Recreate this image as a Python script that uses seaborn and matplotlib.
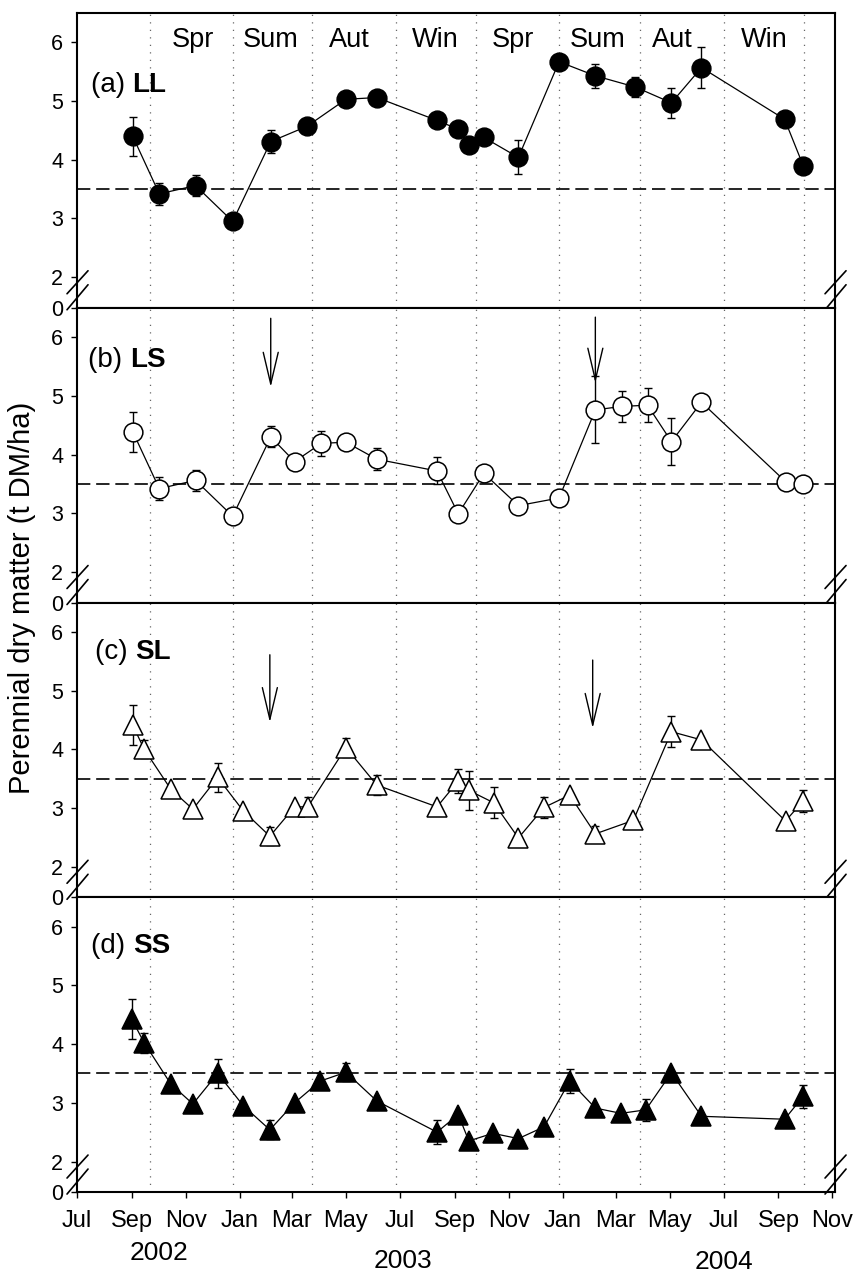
import numpy as np
import pandas as pd
import matplotlib
matplotlib.use("Agg")
import matplotlib.pyplot as plt
import matplotlib.dates as mdates
import matplotlib.transforms as mtransforms
import seaborn as sns

# ---------------- data ----------------
ll_dates = ["2002-09-02", "2002-10-02", "2002-11-12", "2002-12-24", "2003-02-05", "2003-03-18",
            "2003-05-01", "2003-06-05", "2003-08-12", "2003-09-05", "2003-09-17", "2003-10-04",
            "2003-11-12", "2003-12-28", "2004-02-07", "2004-03-23", "2004-05-03", "2004-06-06",
            "2004-09-08", "2004-09-29"]
ll_vals = [4.40, 3.42, 3.56, 2.95, 4.31, 4.57, 5.03, 5.06, 4.67, 4.52, 4.26, 4.38, 4.04, 5.67,
           5.43, 5.24, 4.97, 5.57, 4.69, 3.90]
ll_err = [0.33, 0.19, 0.18, 0, 0.20, 0, 0.08, 0, 0, 0, 0, 0, 0.29, 0, 0.20, 0.17, 0.25, 0.35, 0, 0]

ls_dates = ["2002-09-02", "2002-10-02", "2002-11-12", "2002-12-24", "2003-02-05", "2003-03-04",
            "2003-04-03", "2003-05-01", "2003-06-05", "2003-08-12", "2003-09-05", "2003-10-04",
            "2003-11-12", "2003-12-28", "2004-02-07", "2004-03-08", "2004-04-06", "2004-05-03",
            "2004-06-06", "2004-09-09", "2004-09-29"]
ls_vals = [4.39, 3.42, 3.56, 2.95, 4.30, 3.88, 4.19, 4.21, 3.92, 3.72, 2.99, 3.68, 3.13, 3.26,
           4.76, 4.82, 4.84, 4.22, 4.89, 3.54, 3.49]
ls_err = [0.34, 0.20, 0.18, 0, 0.18, 0, 0.21, 0, 0.19, 0.23, 0, 0, 0, 0, 0.57, 0.27, 0.29, 0.40,
          0, 0, 0]

sl_dates = ["2002-09-02", "2002-09-15", "2002-10-15", "2002-11-09", "2002-12-07", "2003-01-05",
            "2003-02-04", "2003-03-04", "2003-03-19", "2003-05-01", "2003-06-05", "2003-08-12",
            "2003-09-05", "2003-09-17", "2003-10-15", "2003-11-12", "2003-12-11", "2004-01-09",
            "2004-02-07", "2004-03-21", "2004-05-03", "2004-06-06", "2004-09-09", "2004-09-29"]
sl_vals = [4.41, 4.00, 3.32, 2.98, 3.52, 2.95, 2.52, 3.02, 3.02, 4.03, 3.39, 3.02, 3.46, 3.30,
           3.09, 2.49, 3.01, 3.22, 2.56, 2.79, 4.30, 4.16, 2.78, 3.12]
sl_err = [0.34, 0.15, 0, 0, 0.24, 0, 0.15, 0, 0.16, 0.16, 0.17, 0, 0.20, 0.33, 0.26, 0, 0.18, 0,
          0.14, 0, 0.26, 0, 0, 0.18]

ss_dates = ["2002-09-01", "2002-09-15", "2002-10-15", "2002-11-09", "2002-12-07", "2003-01-05",
            "2003-02-04", "2003-03-04", "2003-04-02", "2003-05-01", "2003-06-05", "2003-08-12",
            "2003-09-05", "2003-09-17", "2003-10-14", "2003-11-12", "2003-12-11", "2004-01-09",
            "2004-02-07", "2004-03-07", "2004-04-04", "2004-05-03", "2004-06-06", "2004-09-08",
            "2004-09-29"]
ss_vals = [4.42, 4.02, 3.32, 2.98, 3.50, 2.95, 2.54, 3.00, 3.37, 3.52, 3.03, 2.50, 2.80, 2.35,
           2.48, 2.39, 2.59, 3.37, 2.91, 2.82, 2.88, 3.51, 2.77, 2.72, 3.11]
ss_err = [0.34, 0.17, 0, 0, 0.25, 0, 0.16, 0, 0.14, 0.15, 0, 0.21, 0, 0, 0, 0, 0, 0.20, 0, 0,
          0.19, 0, 0, 0, 0.20]

panel_titles = ["(a)", "(b)", "(c)", "(d)"]
panel_names = ["LL", "LS", "SL", "SS"]

season_bounds = ["2002-09-22", "2002-12-24", "2003-03-24", "2003-06-27", "2003-09-25",
                 "2003-12-28", "2004-03-28", "2004-07-01", "2004-09-30"]
season_labels = ["Spr", "Sum", "Aut", "Win", "Spr", "Sum", "Aut", "Win"]
season_label_dates = ["2002-11-09", "2003-02-05", "2003-05-05", "2003-08-10", "2003-11-06",
                      "2004-02-10", "2004-05-04", "2004-08-16"]

year_labels = ["2002", "2003", "2004"]
year_label_dates = ["2002-10-02", "2003-07-05", "2004-07-01"]

reference_level = 3.5

# arrows (date, start value, tip value) for panels b and c
ls_arrows = [("2003-02-05", 6.32, 5.15), ("2004-02-07", 6.34, 5.22)]
sl_arrows = [("2003-02-04", 5.61, 4.46), ("2004-02-04", 5.52, 4.36)]

y_tick_values = [2, 3, 4, 5, 6]
y_zero_pos = 1.48   # broken axis: position where "0" is shown
y_top = 6.5

# ---------------- styling ----------------
sns.set_theme(style="ticks")
plt.rcParams["font.family"] = ["Liberation Sans", "DejaVu Sans"]

fig = plt.figure(figsize=(8.54, 12.73), dpi=100)
gs = fig.add_gridspec(4, 1, hspace=0, left=0.0902, right=0.9778, top=0.9898, bottom=0.0636)
axes = [fig.add_subplot(gs[i]) for i in range(4)]

series = [
    (ll_dates, ll_vals, ll_err, "o", "black"),
    (ls_dates, ls_vals, ls_err, "o", "white"),
    (sl_dates, sl_vals, sl_err, "^", "white"),
    (ss_dates, ss_vals, ss_err, "^", "black"),
]
label_pos = [(0.018, 0.732), (0.015, 0.80), (0.024, 0.81), (0.019, 0.81)]
xmin, xmax = pd.Timestamp("2002-07-01"), pd.Timestamp("2004-11-04")
xticks = pd.date_range("2002-07-01", "2004-11-01", freq="2MS")

for i, ax in enumerate(axes):
    d, v, e, mk, fc = series[i]
    df = pd.DataFrame({"date": pd.to_datetime(d), "val": v, "err": e})

    for b in pd.to_datetime(season_bounds):
        ax.axvline(b, color="0.4", ls=(0, (1, 5)), lw=0.9, zorder=1)
    ax.axhline(reference_level, color="black", ls=(0, (8, 3.5)), lw=1.2, zorder=1)

    m = df["err"] > 0
    ax.errorbar(df.loc[m, "date"], df.loc[m, "val"], yerr=df.loc[m, "err"], fmt="none",
                ecolor="black", elinewidth=1.0, capsize=3, capthick=1.0, zorder=2)
    sns.lineplot(data=df, x="date", y="val", ax=ax, color="black", linewidth=0.9,
                 marker=mk, markersize=13.5 if mk == "o" else 14, markerfacecolor=fc,
                 markeredgecolor="black", markeredgewidth=1.1, estimator=None, sort=False,
                 zorder=3)

    ax.set_xlim(xmin, xmax)
    ax.set_ylim(y_zero_pos, y_top)
    ax.set_yticks([y_zero_pos] + y_tick_values)
    ax.set_yticklabels(["0"] + [str(t) for t in y_tick_values], fontsize=15.5)
    ax.set_xticks(xticks)
    ax.xaxis.set_major_formatter(mdates.DateFormatter("%b"))
    ax.set_xlabel("")
    ax.set_ylabel("")
    ax.tick_params(axis="y", direction="out", length=4, width=1.0, pad=6, colors="black")
    ax.tick_params(axis="x", direction="out", length=4, width=1.0, pad=9, labelsize=17,
                   colors="black")
    if i < 3:
        ax.tick_params(axis="x", labelbottom=False)
    for s in ax.spines.values():
        s.set_color("black")
        s.set_linewidth(1.5)

    # panel label
    t1 = ax.text(label_pos[i][0], label_pos[i][1], panel_titles[i] + " ", transform=ax.transAxes,
                 fontsize=20, va="baseline", ha="left", color="black")
    ax.annotate(panel_names[i], xy=(1, 0), xycoords=t1, va="bottom", ha="left",
                fontsize=20, fontweight="bold", color="black")

    # axis break marks
    for xs in (0.0, 1.0):
        for y0, y1 in ((0.0475, 0.1255), (-0.0068, 0.078)):
            ax.plot([xs - 0.0132, xs + 0.0145], [y0, y1], transform=ax.transAxes,
                    color="black", lw=1.2, clip_on=False, zorder=5)

# season labels
for lab, dt in zip(season_labels, pd.to_datetime(season_label_dates)):
    axes[0].text(dt, 5.92, lab, ha="center", va="baseline", fontsize=19.5, color="black")

# arrows
for ax, arrs in ((axes[1], ls_arrows), (axes[2], sl_arrows)):
    for dt, y0, y1 in arrs:
        ax.annotate("", xy=(pd.Timestamp(dt), y1), xytext=(pd.Timestamp(dt), y0),
                    arrowprops=dict(arrowstyle="->,head_length=1.9,head_width=0.45",
                                    color="black", lw=1.0, shrinkA=0, shrinkB=0))

# year labels
tr = mtransforms.blended_transform_factory(axes[3].transData, fig.transFigure)
year_y = [0.0157, 0.0094, 0.0086]
for lab, dt, yy in zip(year_labels, pd.to_datetime(year_label_dates), year_y):
    axes[3].text(dt, yy, lab, transform=tr, ha="center", va="center", fontsize=19,
                 color="black")

fig.text(0.0258, 1 - 598 / 1273, "Perennial dry matter (t DM/ha)", rotation=90,
         ha="center", va="center", fontsize=21, color="black")

fig.savefig("out.png", dpi=100, facecolor="white")
